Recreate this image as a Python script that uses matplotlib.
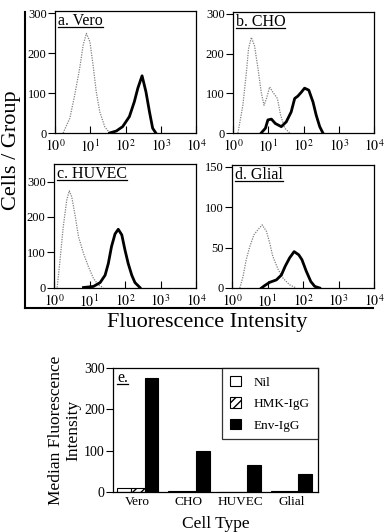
import numpy as np
import matplotlib
matplotlib.use("Agg")
import matplotlib.pyplot as plt
from matplotlib.lines import Line2D

plt.rcParams['font.family'] = ['Liberation Serif', 'DejaVu Serif']
plt.rcParams['mathtext.fontset'] = 'stix'

# ---- histogram traces (x in decades, y = cells per group) ----
# a. Vero
vero_ctl_x = [0.23, 0.42, 0.56, 0.70, 0.80, 0.89, 0.99, 1.08, 1.17, 1.27, 1.41, 1.55]
vero_ctl_y = [0, 37, 95, 162, 220, 249, 228, 170, 103, 53, 16, 0]
vero_env_x = [1.55, 1.74, 1.92, 2.11, 2.25, 2.35, 2.47, 2.58, 2.68, 2.77, 2.86]
vero_env_y = [0, 5, 16, 41, 78, 112, 143, 103, 53, 12, 0]
# b. CHO
cho_ctl_x = [0.14, 0.28, 0.38, 0.44, 0.52, 0.61, 0.71, 0.80, 0.88, 0.95, 1.04, 1.13, 1.26, 1.35, 1.47, 1.61]
cho_ctl_y = [0, 70, 153, 212, 241, 220, 162, 103, 70, 87, 116, 103, 87, 45, 12, 0]
cho_env_x = [0.80, 0.92, 0.99, 1.09, 1.20, 1.37, 1.51, 1.65, 1.75, 1.84, 1.94, 2.03, 2.15, 2.27, 2.36, 2.46, 2.55]
cho_env_y = [0, 12, 33, 35, 24, 16, 28, 53, 87, 93, 103, 113, 108, 78, 45, 16, 0]
# c. HUVEC
huv_ctl_x = [0.09, 0.17, 0.26, 0.36, 0.43, 0.50, 0.60, 0.69, 0.83, 0.97, 1.11, 1.25, 1.39]
huv_ctl_y = [0, 78, 172, 248, 274, 257, 201, 144, 97, 59, 26, 7, 0]
huv_env_x = [0.83, 1.11, 1.30, 1.44, 1.53, 1.62, 1.72, 1.81, 1.91, 2.00, 2.09, 2.19, 2.28, 2.42]
huv_env_y = [0, 3, 14, 35, 68, 116, 152, 165, 149, 106, 68, 35, 14, 0]
# d. Glial
gli_ctl_x = [0.22, 0.31, 0.40, 0.50, 0.62, 0.73, 0.85, 0.97, 1.06, 1.15, 1.30, 1.44, 1.62, 1.81]
gli_ctl_y = [0, 14, 35, 51, 66, 72, 78, 70, 56, 39, 23, 12, 4, 0]
gli_env_x = [0.83, 0.92, 1.06, 1.25, 1.39, 1.50, 1.62, 1.75, 1.88, 1.97, 2.09, 2.22, 2.33, 2.47]
gli_env_y = [0, 3, 7, 10, 16, 27, 37, 45, 41, 35, 21, 8, 2, 0]

panel_titles = ['a. Vero', 'b. CHO', 'c. HUVEC', 'd. Glial']
panel_ymax = [305, 305, 350, 152]
panel_yticks = [[0, 100, 200, 300], [0, 100, 200, 300], [0, 100, 200, 300], [0, 50, 100, 150]]

# ---- panel e: median fluorescence ----
cell_types = ['Vero', 'CHO', 'HUVEC', 'Glial']
nil_vals = [10, 2, 1, 3]
hmk_vals = [10, 3, 1, 3]
env_vals = [275, 100, 65, 43]

W, H = 384, 532
fig = plt.figure(figsize=(W / 100, H / 100), dpi=100)

def box(l, t, r, b):
    return [l / W, 1 - b / H, (r - l) / W, (b - t) / H]

rects = [box(55, 11, 196, 133), box(233, 12, 374, 133),
         box(54, 164, 196, 287.5), box(232, 165, 374, 288)]
curves = [(vero_ctl_x, vero_ctl_y, vero_env_x, vero_env_y),
          (cho_ctl_x, cho_ctl_y, cho_env_x, cho_env_y),
          (huv_ctl_x, huv_ctl_y, huv_env_x, huv_env_y),
          (gli_ctl_x, gli_ctl_y, gli_env_x, gli_env_y)]

titles = []
for i in range(4):
    ax = fig.add_axes(rects[i])
    cx, cy, ex, ey = curves[i]
    ax.plot(10 ** np.array(cx), cy, color='0.5', lw=0.9, ls=(0, (1, 1)))
    ax.plot(10 ** np.array(ex), ey, color='black', lw=2.0)
    ax.set_xscale('log')
    ax.set_xlim(1, 1e4)
    ax.set_ylim(0, panel_ymax[i])
    ax.set_xticks([1, 10, 100, 1000, 10000])
    ax.set_xticklabels([r'$10^{%d}$' % k for k in range(5)])
    ax.set_yticks(panel_yticks[i])
    ax.tick_params(axis='x', which='both', direction='in', labelsize=10, pad=4)
    ax.tick_params(axis='x', which='major', length=5)
    ax.tick_params(axis='x', which='minor', length=3)
    ax.tick_params(axis='y', direction='out', length=5, labelsize=9, pad=1)
    for s in ax.spines.values():
        s.set_linewidth(0.9)
    t = ax.text(0.02, 0.985, panel_titles[i], transform=ax.transAxes,
                ha='left', va='top', fontsize=11.5)
    titles.append(t)

# big L-shaped frame
fig.add_artist(Line2D([25 / W, 25 / W], [1 - 12 / H, 1 - 308 / H], color='black', lw=1.5))
fig.add_artist(Line2D([25 / W, 373 / W], [1 - 308 / H, 1 - 308 / H], color='black', lw=1.5))
fig.text(12 / W, 1 - 150 / H, 'Cells / Group', rotation=90, ha='center', va='center', fontsize=16)
fig.text(207 / W, 1 - 322 / H, 'Fluorescence Intensity', ha='center', va='center', fontsize=16)

# ---- panel e ----
axe = fig.add_axes(box(113, 368, 318, 492))
xpos = np.arange(len(cell_types))
bw = 0.27
axe.bar(xpos - bw, nil_vals, bw, color='white', edgecolor='black', lw=0.8, label='Nil')
axe.bar(xpos, hmk_vals, bw, color='white', edgecolor='black', lw=0.8, hatch='////', label='HMK-IgG')
axe.bar(xpos + bw, env_vals, bw, color='black', edgecolor='black', lw=0.8, label='Env-IgG')
axe.set_xlim(-0.48, 3.52)
axe.set_ylim(0, 300)
axe.set_yticks([0, 100, 200, 300])
axe.set_xticks(xpos)
axe.set_xticklabels(cell_types)
axe.tick_params(axis='x', length=0, labelsize=9.5, pad=3)
axe.tick_params(axis='y', direction='out', length=5, labelsize=10, pad=1)
for s in axe.spines.values():
    s.set_linewidth(0.9)
axe.set_ylabel('Median Fluorescence\nIntensity', fontsize=12.5, labelpad=2, linespacing=1.1)
axe.set_xlabel('Cell Type', fontsize=12.5, labelpad=6)
leg = axe.legend(loc='upper right', fontsize=9.5, frameon=True, fancybox=False,
                 edgecolor='black', borderaxespad=0, handlelength=0.85, handleheight=0.85,
                 labelspacing=0.65, borderpad=0.6, handletextpad=1.0)
leg.get_frame().set_linewidth(0.9)
te = axe.text(0.02, 0.985, 'e.', transform=axe.transAxes, ha='left', va='top', fontsize=11.5)
titles.append(te)

# underline the panel labels
fig.canvas.draw()
r = fig.canvas.get_renderer()
for t in titles:
    bb = t.get_window_extent(r).transformed(fig.transFigure.inverted())
    y = bb.y0 + 1.5 / H
    fig.add_artist(Line2D([bb.x0, bb.x1], [y, y], color='black', lw=0.9))

fig.savefig('out.png', dpi=100)
